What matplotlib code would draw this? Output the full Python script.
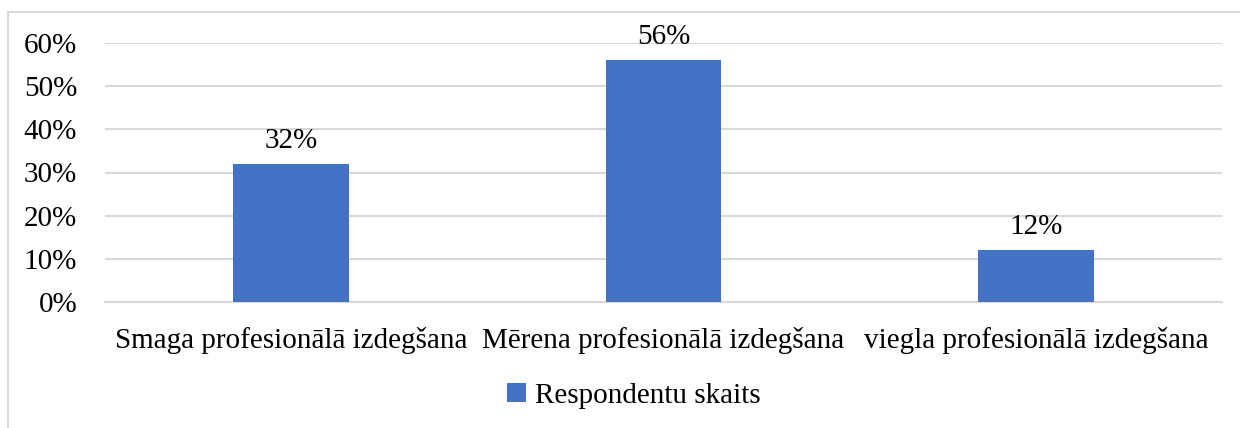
import matplotlib.pyplot as plt
from matplotlib.patches import Rectangle

categories = ['Smaga profesionālā izdegšana', 'Mērena profesionālā izdegšana', 'viegla profesionālā izdegšana']
values = [32, 56, 12]
series_name = 'Respondentu skaits'
yticks = [0, 10, 20, 30, 40, 50, 60]

plt.rcParams['font.family'] = ['Liberation Serif', 'DejaVu Serif']

W, H = 1240, 428
fs = 21
fig = plt.figure(figsize=(W/100, H/100), dpi=100)
ax = fig.add_axes([105/W, 1-302/H, (1222-105)/W, (302-43)/H])

x = range(len(categories))
bars = ax.bar(x, values, width=0.31, color='#4472C4', label=series_name, zorder=3)
for b, v in zip(bars, values):
    ax.text(b.get_x() + b.get_width()/2, v + 2.4, f'{v}%', ha='center', va='bottom', fontsize=fs)

ax.set_xlim(-0.5, len(categories) - 0.5)
ax.set_ylim(0, 60)
ax.set_yticks(yticks)
ax.set_yticklabels([f'{t}%' for t in yticks], fontsize=fs)
ax.set_xticks(list(x))
ax.set_xticklabels(categories, fontsize=fs)
ax.tick_params(length=0)
ax.tick_params(axis='x', pad=18)
ax.tick_params(axis='y', pad=20)
ax.grid(axis='y', color='#D9D9D9', linewidth=1.5, zorder=0)
for s in ['top', 'right', 'left']:
    ax.spines[s].set_visible(False)
ax.spines['bottom'].set_color('#D9D9D9')
ax.spines['bottom'].set_linewidth(1.5)

leg = fig.legend(loc='center', bbox_to_anchor=(634/W, 1-396/H), frameon=False, fontsize=fs,
                 handlelength=0.65, handleheight=0.65, handletextpad=0.3)

fig.patches.append(Rectangle((8/W, -0.01), 1.0, 1-12/H+0.01, transform=fig.transFigure,
                             fill=False, edgecolor='#D9D9D9', linewidth=1.5))

plt.savefig('out.png', dpi=100)
